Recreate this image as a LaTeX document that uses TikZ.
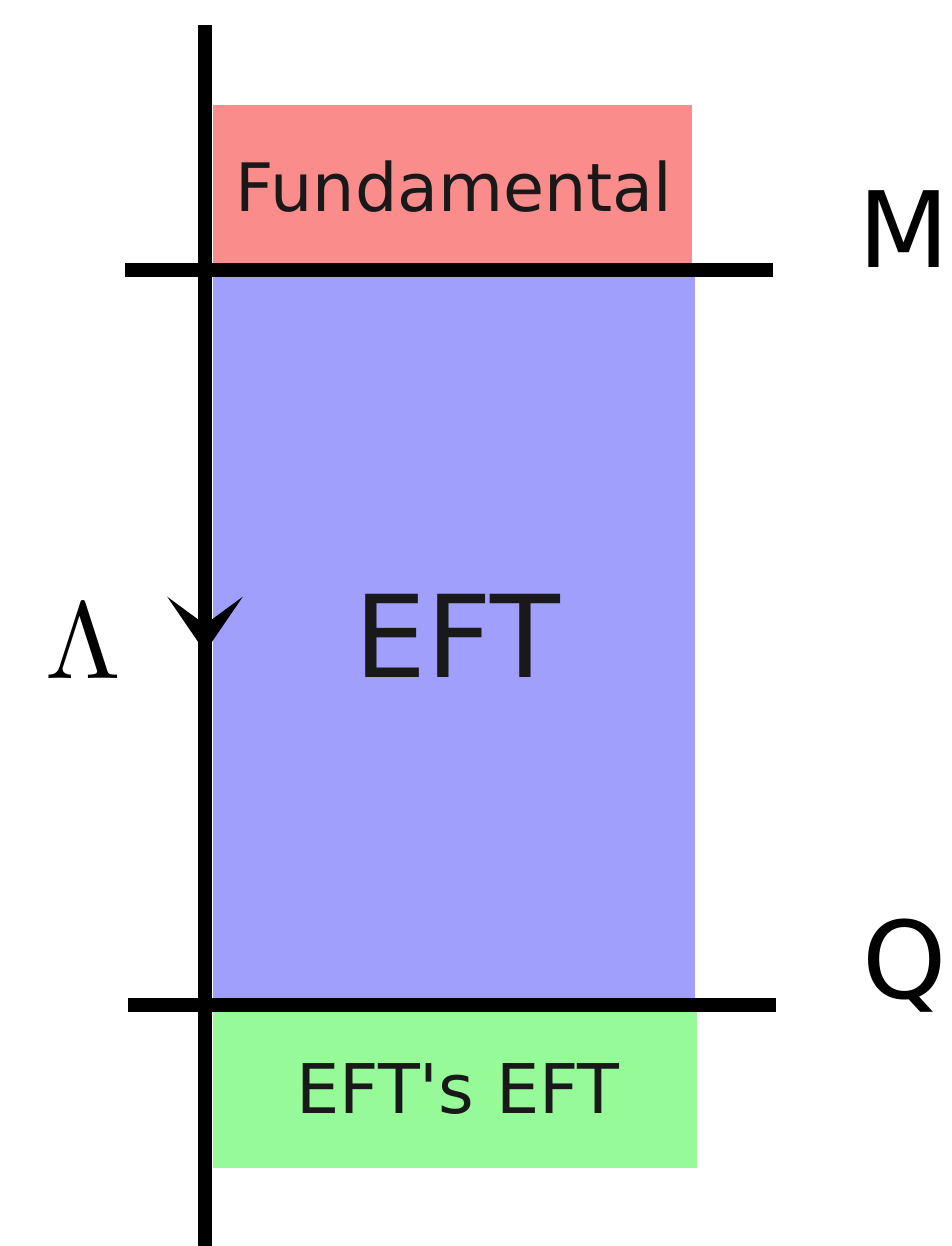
\documentclass[tikz,border=0pt]{standalone}
\usepackage[no-math]{fontspec}
\setmainfont{DejaVu Sans}
\usepackage{tikz}
\usetikzlibrary{arrows.meta}
\definecolor{fundred}{RGB}{250,140,140}
\definecolor{eftblue}{RGB}{160,160,252}
\definecolor{lowgreen}{RGB}{150,250,152}
\tikzset{%
  axis/.style={line width=8.5pt},
  bandtext/.style={anchor=base,inner sep=0pt,text=black!90},
  scaletext/.style={anchor=base,inner sep=0pt}%
}

\begin{document}
\begin{tikzpicture}[
    x=0.02cm,
    y=-0.02cm,
    flowarrow/.style={axis,-{Stealth[length=1.1cm,width=1.5cm,inset=0.55cm]}}
]

% Canvas
\useasboundingbox (0,0) rectangle (951,1246);

% Energy bands
\fill[fundred] (213,105) rectangle (692,270);
\fill[eftblue] (213,270) rectangle (695,1005);
\fill[lowgreen] (213,1005) rectangle (697,1168);

% Band labels
\node[bandtext, font=\fontsize{38}{44}\selectfont] (fundamental) at (454,212) {Fundamental};
\node[bandtext, font=\fontsize{65}{72}\selectfont] (eft) at (457,677) {EFT};
\node[bandtext, font=\fontsize{39}{44}\selectfont] (efteft) at (458,1113) {EFT\textquotesingle s EFT};

% Scale axis (flowing down in Lambda)
\coordinate (axtop) at (205,25);
\coordinate (arrowtip) at (205,652);
\coordinate (axbot) at (205,1246);
\draw[axis] (axtop) -- (axbot);
\draw[flowarrow] (axtop) -- (arrowtip);
\node[scaletext, scale=6.2] (lam) at (83,678) {$\Lambda$};

% Thresholds M and Q
\coordinate (mleft) at (125,270);
\coordinate (mright) at (773,270);
\coordinate (qleft) at (128,1005);
\coordinate (qright) at (776,1005);
\draw[axis] (mleft) -- (mright);
\draw[axis] (qleft) -- (qright);
\node[scaletext, font=\fontsize{60}{68}\selectfont] (mlabel) at (904,268) {M};
\node[scaletext, font=\fontsize{61}{68}\selectfont] (qlabel) at (905,998) {Q};

\end{tikzpicture}
\end{document}
